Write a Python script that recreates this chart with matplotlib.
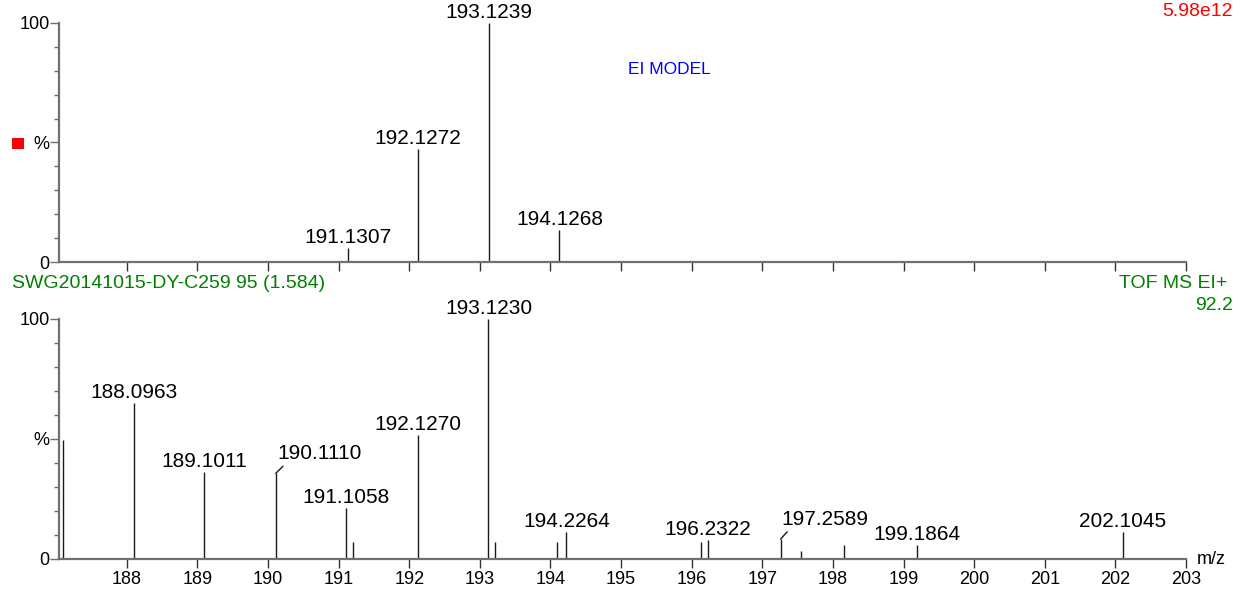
import matplotlib
matplotlib.use('Agg')
import matplotlib.pyplot as plt
from matplotlib.patches import Rectangle
from matplotlib.ticker import MultipleLocator

plt.rcParams['font.family'] = ['Liberation Sans', 'DejaVu Sans']

# top trace (model)
top_mz = [191.1307, 192.1272, 193.1239, 194.1268]
top_int = [5.8, 47.2, 100.0, 13.5]
top_labels = ['191.1307', '192.1272', '193.1239', '194.1268']

# bottom trace (measured)
bot_mz = [187.10, 188.0963, 189.1011, 190.1110, 191.1058, 191.21, 192.1270, 193.1230,
          193.22, 194.09, 194.2264, 196.13, 196.2322, 197.2589, 197.55, 198.16,
          199.1864, 202.1045]
bot_int = [49.5, 64.8, 36.3, 35.6, 21.0, 6.8, 51.6, 100.0,
           6.8, 6.8, 11.0, 6.8, 7.9, 8.2, 3.3, 5.6,
           5.6, 11.0]
bot_labels = ['', '188.0963', '189.1011', '190.1110', '191.1058', '', '192.1270', '193.1230',
              '', '', '194.2264', '', '196.2322', '197.2589', '', '',
              '199.1864', '202.1045']
# labels pushed aside with a short leader line
leader_peaks = ['190.1110', '197.2589']

x_ticks = list(range(188, 204))

W, H = 1245, 594
fig = plt.figure(figsize=(W / 100, H / 100), dpi=100)

axis_col = '#707070'


def ax_rect(left, top, right, bottom):
    return [left / W, 1 - bottom / H, (right - left) / W, (bottom - top) / H]


def style_axis(ax, show_xlabels):
    ax.set_xlim(187.034, 203.0)
    ax.set_ylim(0, 100)
    for s in ['top', 'right']:
        ax.spines[s].set_visible(False)
    for s in ['left', 'bottom']:
        ax.spines[s].set_color(axis_col)
        ax.spines[s].set_linewidth(1.6)
    ax.set_yticks([0, 50, 100])
    ax.set_yticklabels(['0', '%', '100'])
    ax.yaxis.set_minor_locator(MultipleLocator(10))
    ax.tick_params(axis='y', which='major', length=6.5, width=1.0, color=axis_col,
                   labelsize=13, pad=0)
    ax.tick_params(axis='y', which='minor', length=3.6, width=1.0, color=axis_col)
    ax.set_xticks(x_ticks)
    ax.tick_params(axis='x', which='major', length=6.5, width=1.0, color='#333333',
                   labelsize=13, pad=2, labelbottom=show_xlabels)
    ax.patch.set_alpha(0)


def draw_peaks(ax, mz, inten, labels):
    ax.vlines(mz, 0, inten, colors='#1a1a1a', linewidth=1.0)
    for m, v, lab in zip(mz, inten, labels):
        if not lab:
            continue
        if lab in leader_peaks:
            ax.annotate(lab, xy=(m, v), xytext=(44, 10), textcoords='offset pixels',
                        ha='center', va='bottom', fontsize=15,
                        arrowprops=dict(arrowstyle='-', color='#1a1a1a', lw=1.0,
                                        shrinkA=0, shrinkB=0, relpos=(0.12, 0.1)))
        else:
            ax.annotate(lab, xy=(m, v), xytext=(0, 1), textcoords='offset pixels',
                        ha='center', va='bottom', fontsize=15)


ax1 = fig.add_axes(ax_rect(58.5, 22.7, 1186.0, 262.3))
style_axis(ax1, False)
draw_peaks(ax1, top_mz, top_int, top_labels)

ax2 = fig.add_axes(ax_rect(58.5, 319.0, 1186.0, 558.7))
style_axis(ax2, True)
draw_peaks(ax2, bot_mz, bot_int, bot_labels)


def ftext(x, y, s, **kw):
    fig.text(x / W, 1 - y / H, s, **kw)


ftext(1233, 12, '5.98e12', color='#ff0000', fontsize=14, ha='right', va='center')
ftext(628, 70, 'EI MODEL', color='#0000ff', fontsize=12.5, ha='left', va='center')
ftext(12, 284, 'SWG20141015-DY-C259 95 (1.584)', color='#008000', fontsize=14,
      ha='left', va='center')
ftext(1227, 284, 'TOF MS EI+', color='#008000', fontsize=14, ha='right', va='center')
ftext(1233, 306, '92.2', color='#008000', fontsize=14, ha='right', va='center')
ftext(1197, 559, 'm/z', color='black', fontsize=13, ha='left', va='center')

fig.patches.append(Rectangle((12 / W, 1 - 149 / H), 12 / W, 11 / H,
                             transform=fig.transFigure, facecolor='#ff0000',
                             edgecolor='none'))

fig.savefig('out.png', dpi=100)
